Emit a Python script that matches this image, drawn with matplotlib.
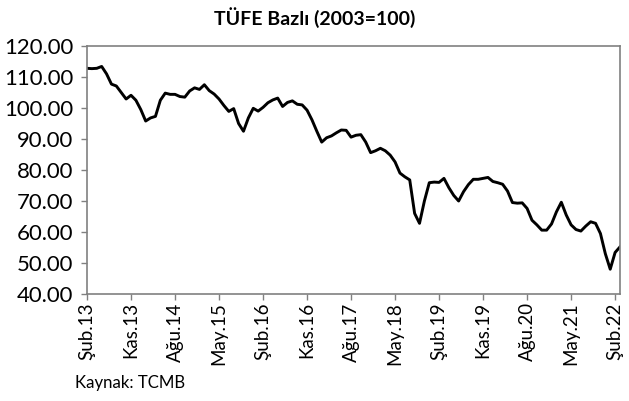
import matplotlib
matplotlib.use("Agg")
import matplotlib.pyplot as plt

values = [112.8, 112.7, 112.8, 113.4, 111.0, 107.7, 107.1, 105.0, 102.9, 104.1,
          102.5, 99.5, 95.8, 96.8, 97.3, 102.5, 104.8, 104.4, 104.4, 103.7,
          103.5, 105.5, 106.5, 106.0, 107.5, 105.6, 104.5, 102.9, 100.8, 98.9,
          99.8, 95.0, 92.5, 96.8, 99.9, 99.0, 100.2, 101.7, 102.6, 103.2,
          100.5, 101.8, 102.3, 101.2, 101.0, 99.3, 96.2, 92.5, 89.0, 90.4,
          91.0, 92.0, 92.9, 92.8, 90.6, 91.2, 91.4, 89.0, 85.6, 86.2,
          87.0, 86.2, 84.8, 82.6, 79.0, 77.8, 76.8, 66.0, 62.8, 70.0,
          75.9, 76.1, 76.0, 77.3, 74.3, 71.8, 70.0, 73.0, 75.3, 77.0,
          77.0, 77.3, 77.6, 76.3, 75.9, 75.4, 73.2, 69.5, 69.3, 69.4,
          67.6, 63.8, 62.3, 60.6, 60.6, 62.6, 66.5, 69.6, 65.5, 62.3,
          60.8, 60.3, 61.9, 63.3, 62.8, 59.5, 53.0, 48.0, 53.4, 55.2]
tick_labels = ["Şub.13", "Kas.13", "Ağu.14", "May.15", "Şub.16", "Kas.16", "Ağu.17",
               "May.18", "Şub.19", "Kas.19", "Ağu.20", "May.21", "Şub.22"]
title = "TÜFE Bazlı (2003=100)"
source = "Kaynak: TCMB"

plt.rcParams['font.family'] = ['Lato', 'DejaVu Sans']

W, H = 629, 401
fig = plt.figure(figsize=(W / 100, H / 100), dpi=100)
ax = fig.add_axes([87 / W, 1 - 294 / H, (620 - 87) / W, (294 - 46) / H])

x = list(range(len(values)))
ax.plot(x, values, color="black", linewidth=2.1, solid_joinstyle="round")

ax.set_xlim(0, len(values) - 1)
ax.set_ylim(40, 120)
yt = list(range(40, 121, 10))
ax.set_yticks(yt)
ylabs = ax.set_yticklabels([f"{v:.2f}" for v in yt], fontsize=12)
ax.set_xticks(list(range(0, len(values), 9)))
xlabs = ax.set_xticklabels(tick_labels, rotation=90, fontsize=12)

for sp in ax.spines.values():
    sp.set_color("#808080")
    sp.set_linewidth(1.2)
ax.tick_params(axis="both", direction="out", length=4, color="#808080", width=1)
ax.tick_params(axis="y", pad=6)
ax.tick_params(axis="x", pad=2)

t = fig.text(0.5, 1 - 18 / H, title, ha="center", va="center", fontsize=12, fontweight="bold")
s = fig.text(75 / W, 1 - 383 / H, source, ha="left", va="center", fontsize=12)

# fit text sizes to the reference's measured extents
fig.canvas.draw()
r = fig.canvas.get_renderer()
def fit(texts, target, dim):
    bb = texts[0].get_window_extent(r)
    cur = bb.width if dim == "w" else bb.height
    size = texts[0].get_fontsize() * target / cur
    for tx in texts:
        tx.set_fontsize(size)
fit([ylabs[-1]] + list(ylabs[:-1]), 69, "w")
fit(list(xlabs), 57, "h")
fit([t], 200, "w")
fit([s], 110, "w")

fig.savefig("out.png", dpi=100)
